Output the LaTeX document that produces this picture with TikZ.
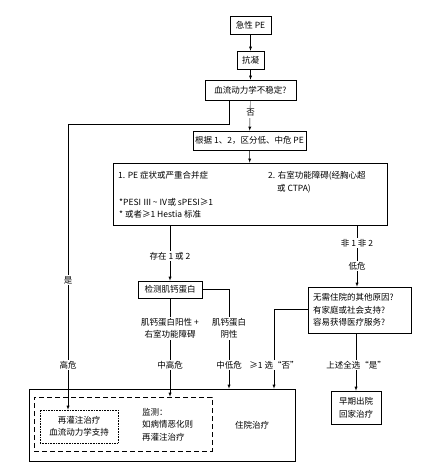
\documentclass[tikz,border=0pt]{standalone}
\usepackage{fontspec}
\setmainfont{Noto Sans CJK SC}
\usetikzlibrary{calc,positioning,arrows}

\tikzset{
  kotak/.style={draw, line width=0.6pt, inner sep=2pt, align=center},
  teks/.style={fill=white, inner sep=1.5pt, align=center},
}

\begin{document}
\begin{tikzpicture}[x=1pt,y=-1pt,font=\fontsize{8.5}{12.5}\selectfont,>=latex]
\useasboundingbox (0,0) rectangle (438,468);

% kotak-kotak alur atas
\node[kotak, minimum width=41pt, minimum height=18pt] (akut) at (250.5,25) {急性 PE};
\node[kotak, minimum width=27pt, minimum height=18pt] (antikoag) at (250.5,60) {抗凝};
\node[kotak, minimum width=91pt, minimum height=20pt] (tidakstabil) at (250.5,90) {血流动力学不稳定?};
\node[kotak, minimum width=109pt, minimum height=19pt] (strata) at (249.5,140.5) {根据 1、2，区分低、中危 PE};
\node[kotak, minimum width=274pt, minimum height=62pt] (kriteria) at (250,194) {};

% isi kotak kriteria
\node[anchor=west, inner sep=0pt] (krit1) at (118,175) {1. PE 症状或严重合并症};
\node[anchor=west, align=left, inner sep=0pt] (krit2) at (268,182) {2. 右室功能障碍(经胸心超\\\hspace{1.05em}或 CTPA)};
\node[anchor=west, align=left, inner sep=0pt] (pesi) at (119,208.5) {*PESI Ⅲ\,\textasciitilde\,Ⅳ或 sPESI≥1\\* 或者≥1 Hestia 标准};

% kotak tengah dan kanan
\node[kotak, minimum width=64pt, minimum height=17pt] (troponin) at (170,289.5) {检测肌钙蛋白};
\node[kotak, text width=93pt, inner xsep=5pt, minimum height=46pt, align=left] (tanpa) at (359.5,310) {无需住院的其他原因?\\有家庭或社会支持?\\容易获得医疗服务?};
\node[kotak, minimum width=50pt, minimum height=33pt] (pulang) at (356,407.5) {早期出院\\回家治疗};

% kotak rawat inap di bawah
\node[kotak, minimum width=266pt, minimum height=72pt] (rawat) at (162,425) {};
\node[draw, dashed, line width=0.6pt, dash pattern=on 5pt off 3pt, minimum width=178pt, minimum height=54pt] (pantau) at (123,424) {};
\node[draw, densely dotted, line width=0.6pt, minimum width=78pt, minimum height=33pt, align=center] (reperfusi) at (79,426.5) {再灌注治疗\\血流动力学支持};
\node[anchor=west, align=left, inner sep=0pt] (monitor) at (142,424.5) {监测：\\如病情恶化则\\再灌注治疗};
\node (inap) at (252,425) {住院治疗};

% garis penghubung
\coordinate (belok) at (68,124);
\coordinate (negatif) at (229,0);
\coordinate (kiri) at (274,0);
\draw[->] (akut) -- (antikoag);
\draw[->] (antikoag) -- (tidakstabil);
\draw[->] (tidakstabil) -- (strata);
\draw[->] (strata) -- (kriteria);
\draw[->] ([xshift=-21.5pt]tidakstabil.south) |- (belok) -- (belok |- reperfusi.north);
\draw[->] (kriteria.south -| troponin.north) -- (troponin.north);
\draw[->] ([xshift=-2.5pt]kriteria.south -| tanpa.north) -- ([xshift=-2.5pt]tanpa.north);
\draw[->] (troponin.south) -- (troponin.south |- pantau.north);
\draw[->] (troponin.east) -| (negatif |- rawat.north);
\draw[->] (tanpa.west |- 0,309) -| (kiri |- rawat.north);
\draw[->] ([xshift=-3.5pt]tanpa.south) -- ([xshift=-3.5pt]tanpa.south |- pulang.north);

% label pada garis
\node[teks] (lbltidak) at (250.5,113) {否};
\node[teks] (lblya) at (68,280) {是};
\node[teks] (lbltinggi) at (68,365) {高危};
\node[teks] (lblada) at (170,256) {存在 1 或 2};
\node[teks] (lblbukan) at (357,243) {非 1 非 2};
\node[teks] (lblrendah) at (357,266) {低危};
\node[teks] (lblpositif) at (170,328.5) {肌钙蛋白阳性 +\\右室功能障碍};
\node[teks] (lblnegatif) at (229,328.5) {肌钙蛋白\\阴性};
\node[teks] (lblmenengah) at (170,365) {中高危};
\node[teks] (lblmenrendah) at (229,365) {中低危};
\node[teks] (lbltidaksatu) at (274,365) {≥1 选“否”};
\node[teks] (lblsemua) at (356,365) {上述全选“是”};

\end{tikzpicture}
\end{document}
